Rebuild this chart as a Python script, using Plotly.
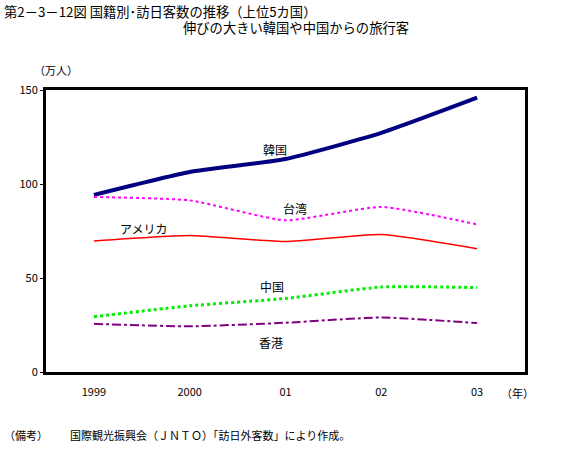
import plotly.graph_objects as go

years = ["1999", "2000", "01", "02", "03"]
korea = [94.2, 106.4, 113.3, 127.2, 145.9]
taiwan = [93.1, 91.3, 80.7, 87.8, 78.5]
america = [69.7, 72.6, 69.4, 73.1, 65.6]
china = [29.4, 35.2, 39.1, 45.2, 44.9]
hongkong = [25.6, 24.3, 26.2, 29.0, 26.0]
y_ticks = [0, 50, 100, 150]

FONT = "Noto Sans CJK JP"
W, H = 561, 455
L, R, T, B = 46, 525, 90, 372

x = list(range(len(years)))
fig = go.Figure()
series = [
    ("韓国", korea, "#000080", 4, "solid"),
    ("台湾", taiwan, "#ff00ff", 2, "dot"),
    ("アメリカ", america, "#ff0000", 1.5, "solid"),
    ("中国", china, "#00ee00", 3, "dot"),
    ("香港", hongkong, "#800080", 2, "dashdot"),
]
for name, vals, col, w, dash in series:
    fig.add_trace(go.Scatter(x=x, y=vals, mode="lines", name=name,
                             line=dict(color=col, width=w, dash=dash, shape="spline", smoothing=0.5),
                             showlegend=False, hoverinfo="skip"))

def px(xp, yp):
    return (xp - L) / (R - L), (B - yp) / (B - T)

labels = [("韓国", 275, 149), ("台湾", 295, 208), ("アメリカ", 143, 228),
          ("中国", 272, 286), ("香港", 271, 342)]
ann = []
for t, xp, yp in labels:
    ax, ay = px(xp, yp)
    ann.append(dict(text=t, x=ax, y=ay, xref="paper", yref="paper", showarrow=False,
                    font=dict(size=12, family=FONT, color="black"), xanchor="center", yanchor="middle"))

def txt(t, xp, yp, xa="left", size=12):
    ax, ay = px(xp, yp)
    ann.append(dict(text=t, x=ax, y=ay, xref="paper", yref="paper", showarrow=False,
                    font=dict(size=size, family=FONT, color="black"), xanchor=xa, yanchor="middle"))

txt("第2－3－12図 国籍別･訪日客数の推移（上位5カ国）", 2, 11, size=13.3)
txt("伸びの大きい韓国や中国からの旅行客", 411, 27, xa="right", size=13.3)
txt("（万人）", 56, 70, xa="center", size=11)
txt("（年）", 517, 393, xa="center", size=11)
txt("（備考）", 2, 435, size=11)
txt("国際観光振興会（ＪＮＴＯ）「訪日外客数」により作成。", 68, 435, size=11)

fig.update_layout(
    width=W, height=H,
    margin=dict(l=L, r=W - R, t=T, b=H - B),
    paper_bgcolor="white", plot_bgcolor="white",
    annotations=ann,
    font=dict(family=FONT, color="black"),
    xaxis=dict(range=[-0.5, 4.5], tickvals=x, ticktext=years, showgrid=False, zeroline=False,
               showline=True, mirror=True, linecolor="black", linewidth=3, ticks="",
               tickfont=dict(size=11, family=FONT), ticklabelstandoff=8),
    yaxis=dict(range=[0, 150], tickvals=y_ticks, showgrid=False, zeroline=False,
               showline=True, mirror=True, linecolor="black", linewidth=3, ticks="outside",
               ticklen=3, tickwidth=1, tickcolor="black", tickfont=dict(size=11, family=FONT)),
)
fig.write_html("out.html", config={"displayModeBar": False},
               post_script="document.body.style.margin='0';document.body.style.padding='0';")
